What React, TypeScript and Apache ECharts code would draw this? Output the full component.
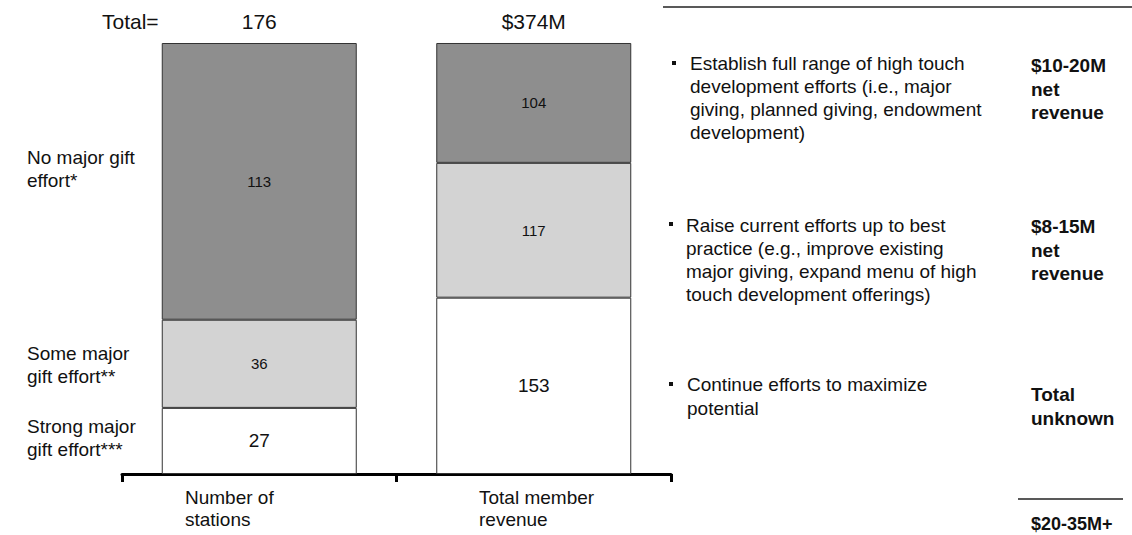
import React, { useEffect, useRef } from "react";
import * as echarts from "echarts";

// Two stacked 100% columns: stations by major-gift effort, and the member revenue they hold.
const categories = ["Number of\nstations", "Total member\nrevenue"];
const totalLabels = ["176", "$374M"];
const segmentNames = [
  "Strong major\ngift effort***",
  "Some major\ngift effort**",
  "No major gift\neffort*",
];
const strongEffort = [27, 153];
const someEffort = [36, 117];
const noEffort = [113, 104];

// Right-hand panel: recommended action and the net revenue it could bring.
const actions = [
  "Establish full range of high touch\ndevelopment efforts (i.e., major\ngiving, planned giving, endowment\ndevelopment)",
  "Raise current efforts up to best\npractice (e.g., improve existing\nmajor giving, expand menu of high\ntouch development offerings)",
  "Continue efforts to maximize\npotential",
];
const actionValues = ["$10-20M\nnet\nrevenue", "$8-15M\nnet\nrevenue", "Total\nunknown"];
const overallValue = "$20-35M+";

const FONT = "'Liberation Sans', Arial, Helvetica, sans-serif";
const INK = "#111";
const segmentColors = ["#ffffff", "#d3d3d3", "#8e8e8e"];
const valueFontSizes = [19, 15, 15];
// vertical nudge of the left-hand segment captions relative to the segment centre
const captionNudge = [-3, 1, -12];
// layout of the right panel blocks
const actionLayout = [
  { bulletX: 672, bulletY: 61, textX: 690, textY: 98, valueY: 89 },
  { bulletX: 669, bulletY: 222, textX: 686, textY: 260, valueY: 250 },
  { bulletX: 669, bulletY: 382, textX: 687, textY: 396.5, valueY: 406.5 },
];
const categoryLabelX = [185, 479];

export default function App() {
  const ref = useRef<HTMLDivElement>(null);

  useEffect(() => {
    if (!ref.current) return;
    const chart = echarts.init(ref.current, undefined, { renderer: "svg" });

    const counts = [strongEffort, someEffort, noEffort];
    const totals = categories.map((_, i) => counts.reduce((s, arr) => s + arr[i], 0));
    const shares = counts.map((arr) => arr.map((v, i) => (v / totals[i]) * 100));

    const series = counts.map((arr, k) => ({
      type: "bar",
      name: segmentNames[k],
      stack: "all",
      barWidth: 195,
      xAxisIndex: 0,
      yAxisIndex: 0,
      data: shares[k],
      itemStyle: { color: segmentColors[k], borderColor: "#333", borderWidth: 1 },
      label: {
        show: true,
        position: "inside",
        formatter: (p: any) => String(arr[p.dataIndex]),
        fontSize: valueFontSizes[k],
        fontFamily: FONT,
        color: INK,
      },
      emphasis: { disabled: true },
    }));

    chart.setOption({
      animation: false,
      backgroundColor: "#ffffff",
      grid: { left: 122, right: 461, top: 43, bottom: 61 },
      xAxis: [
        {
          type: "category",
          data: categories,
          position: "bottom",
          axisLine: { show: true, lineStyle: { color: "#000", width: 3 } },
          axisTick: { show: true, length: 8, lineStyle: { color: "#000", width: 3 } },
          axisLabel: { show: false },
          splitLine: { show: false },
        },
        {
          type: "category",
          data: totalLabels,
          position: "top",
          axisLine: { show: false },
          axisTick: { show: false },
          axisLabel: { show: true, fontSize: 21, fontFamily: FONT, color: INK, margin: 11 },
          splitLine: { show: false },
        },
      ],
      yAxis: { type: "value", min: 0, max: 100, show: false },
      series,
    });

    // captions to the left of the first column, centred on its segments
    const graphics: any[] = [];
    let cum = 0;
    shares.forEach((arr, k) => {
      const mid = cum + arr[0] / 2;
      cum += arr[0];
      const y = chart.convertToPixel({ yAxisIndex: 0 }, mid) as number;
      graphics.push({
        type: "text",
        x: 27,
        y: y + captionNudge[k],
        style: {
          text: segmentNames[k],
          fontSize: 19,
          fontFamily: FONT,
          fill: INK,
          lineHeight: 23,
          align: "left",
          verticalAlign: "middle",
        },
      });
    });

    graphics.push({
      type: "text",
      x: 102,
      y: 21,
      style: { text: "Total=", fontSize: 21, fontFamily: FONT, fill: INK, align: "left", verticalAlign: "middle" },
    });

    categories.forEach((c, i) => {
      graphics.push({
        type: "text",
        x: categoryLabelX[i],
        y: 508,
        style: { text: c, fontSize: 19, fontFamily: FONT, fill: INK, lineHeight: 22, align: "left", verticalAlign: "middle" },
      });
    });

    // right panel
    graphics.push({
      type: "line",
      shape: { x1: 663, y1: 7, x2: 1132, y2: 7 },
      style: { stroke: "#222", lineWidth: 1.5 },
    });
    actions.forEach((a, i) => {
      const L = actionLayout[i];
      graphics.push({
        type: "rect",
        shape: { x: L.bulletX, y: L.bulletY, width: 4, height: 4 },
        style: { fill: INK },
      });
      graphics.push({
        type: "text",
        x: L.textX,
        y: L.textY,
        style: { text: a, fontSize: 19, fontFamily: FONT, fill: INK, lineHeight: 23.3, align: "left", verticalAlign: "middle" },
      });
      graphics.push({
        type: "text",
        x: 1031,
        y: L.valueY,
        style: {
          text: actionValues[i],
          fontSize: 19,
          fontWeight: "bold",
          fontFamily: FONT,
          fill: INK,
          lineHeight: 23.5,
          align: "left",
          verticalAlign: "middle",
        },
      });
    });
    graphics.push({
      type: "line",
      shape: { x1: 1018, y1: 499, x2: 1123, y2: 499 },
      style: { stroke: "#222", lineWidth: 1.5 },
    });
    graphics.push({
      type: "text",
      x: 1031,
      y: 524,
      style: { text: overallValue, fontSize: 18, fontWeight: "bold", fontFamily: FONT, fill: INK, align: "left", verticalAlign: "middle" },
    });

    chart.setOption({ graphic: graphics });

    return () => chart.dispose();
  }, []);

  return (
    <div
      ref={ref}
      style={{ position: "absolute", left: 0, top: 0, width: 1132, height: 535, background: "#fff" }}
    />
  );
}
